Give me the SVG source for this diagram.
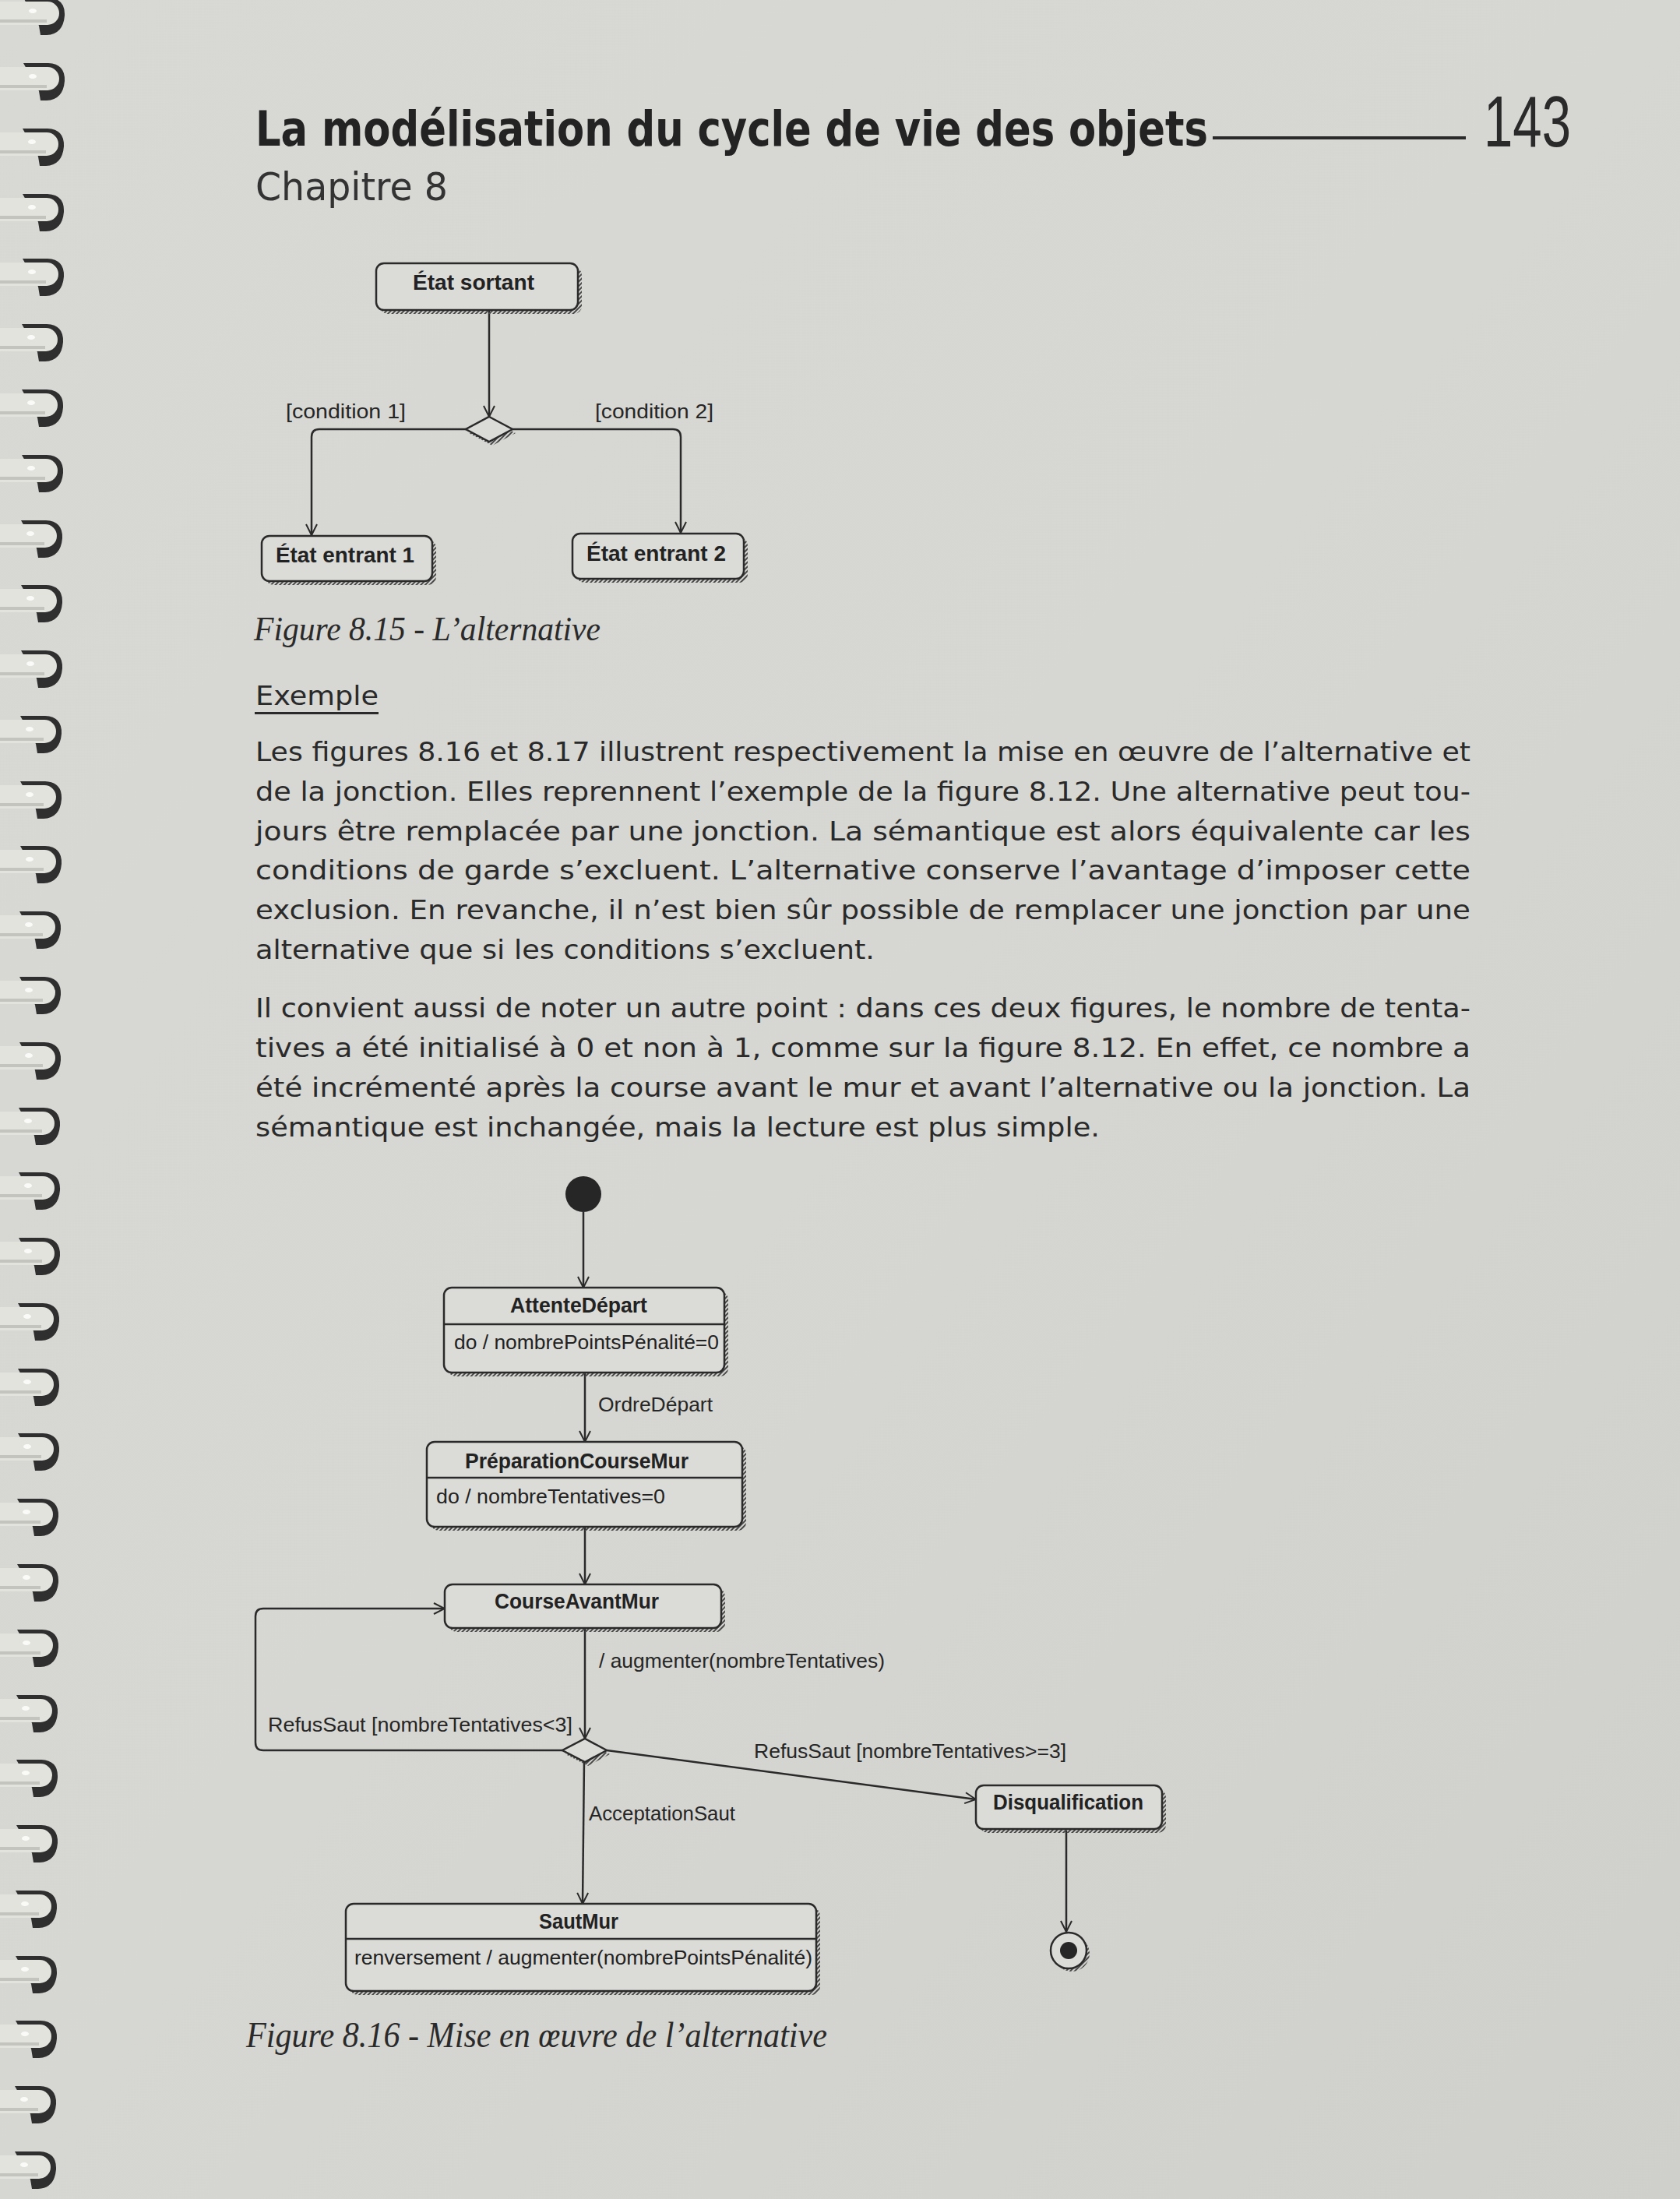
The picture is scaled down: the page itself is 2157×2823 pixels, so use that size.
<svg xmlns="http://www.w3.org/2000/svg" xmlns:xlink="http://www.w3.org/1999/xlink" width="2157" height="2823" viewBox="0 0 2157 2823">
  <defs>
    <linearGradient id="paper" x1="0" y1="0" x2="1" y2="1">
      <stop offset="0" stop-color="#d8d8d4"/>
      <stop offset="0.5" stop-color="#d6d6d2"/>
      <stop offset="1" stop-color="#cfcfcb"/>
    </linearGradient>
    <pattern id="hatch" width="4" height="4" patternUnits="userSpaceOnUse" patternTransform="rotate(45)">
      <rect width="2" height="4" fill="#4a4a4a"/>
    </pattern>
    <marker id="arr" viewBox="0 0 16 16" refX="15" refY="8" markerWidth="16" markerHeight="16" orient="auto" markerUnits="userSpaceOnUse">
      <path d="M1,1 L15,8 L1,15" fill="none" stroke="#2a2a2a" stroke-width="2"/>
    </marker>
    <!-- one loop of the wire binding, centred on y=0 -->
    <g id="ring">
      <path d="M30,-20 L62,-20 Q84,-19 83,3 Q81,27 60,28 L52,28 L50,16 Z" fill="#2f2f2f"/>
      <rect x="-40" y="-15" width="116" height="30" rx="15" fill="#e3e3de"/>
      <path d="M-40,10 L60,10" stroke="#c4c4be" stroke-width="4"/>
      <ellipse cx="42" cy="-3" rx="5" ry="3" fill="#fafaf8"/>
    </g>
  </defs>
  <style>
    .ink { fill: #262626; }
    .head { font-family: "DejaVu Sans", "Liberation Sans", sans-serif; font-weight: bold; fill: #232323; }
    .body { font-family: "DejaVu Sans", "Liberation Sans", sans-serif; font-size: 34px; fill: #2a2a2a; }
    .cap { font-family: "Liberation Serif", serif; font-style: italic; fill: #2a2a2a; }
    .node rect.box { fill: #dbdbd7; stroke: #2a2a2a; stroke-width: 2.5; }
    .node rect.sh { fill: url(#hatch); }
    .node line.div { stroke: #2a2a2a; stroke-width: 2.5; }
    .nt { font-family: "Liberation Sans", Arial, sans-serif; font-weight: bold; font-size: 27px; fill: #222; }
    .nb { font-family: "Liberation Sans", Arial, sans-serif; font-size: 26px; fill: #222; }
    .lbl { font-family: "Liberation Sans", Arial, sans-serif; font-size: 26px; fill: #262626; }
    .edges path, .edges line { fill: none; stroke: #2a2a2a; stroke-width: 2.5; }
  </style>

  <!-- page -->
  <rect x="0" y="0" width="2157" height="2823" fill="url(#paper)"/>

  <!-- spiral binding -->
  <g id="binding">
    <use xlink:href="#ring" transform="translate(0,17)"/>
    <use xlink:href="#ring" transform="translate(0,101)"/>
    <use xlink:href="#ring" transform="translate(-1,185)"/>
    <use xlink:href="#ring" transform="translate(-1,269)"/>
    <use xlink:href="#ring" transform="translate(-1,352)"/>
    <use xlink:href="#ring" transform="translate(-2,436)"/>
    <use xlink:href="#ring" transform="translate(-2,520)"/>
    <use xlink:href="#ring" transform="translate(-2,604)"/>
    <use xlink:href="#ring" transform="translate(-3,688)"/>
    <use xlink:href="#ring" transform="translate(-3,771)"/>
    <use xlink:href="#ring" transform="translate(-3,855)"/>
    <use xlink:href="#ring" transform="translate(-4,939)"/>
    <use xlink:href="#ring" transform="translate(-4,1023)"/>
    <use xlink:href="#ring" transform="translate(-4,1106)"/>
    <use xlink:href="#ring" transform="translate(-5,1190)"/>
    <use xlink:href="#ring" transform="translate(-5,1274)"/>
    <use xlink:href="#ring" transform="translate(-5,1358)"/>
    <use xlink:href="#ring" transform="translate(-6,1442)"/>
    <use xlink:href="#ring" transform="translate(-6,1525)"/>
    <use xlink:href="#ring" transform="translate(-6,1609)"/>
    <use xlink:href="#ring" transform="translate(-7,1693)"/>
    <use xlink:href="#ring" transform="translate(-7,1777)"/>
    <use xlink:href="#ring" transform="translate(-7,1860)"/>
    <use xlink:href="#ring" transform="translate(-8,1944)"/>
    <use xlink:href="#ring" transform="translate(-8,2028)"/>
    <use xlink:href="#ring" transform="translate(-8,2112)"/>
    <use xlink:href="#ring" transform="translate(-9,2196)"/>
    <use xlink:href="#ring" transform="translate(-9,2279)"/>
    <use xlink:href="#ring" transform="translate(-9,2363)"/>
    <use xlink:href="#ring" transform="translate(-10,2447)"/>
    <use xlink:href="#ring" transform="translate(-10,2531)"/>
    <use xlink:href="#ring" transform="translate(-10,2614)"/>
    <use xlink:href="#ring" transform="translate(-11,2698)"/>
    <use xlink:href="#ring" transform="translate(-11,2782)"/>
  </g>

  <!-- running head -->
  <g id="header">
    <text class="head" x="328" y="187" font-size="62" textLength="1223" lengthAdjust="spacingAndGlyphs">La modélisation du cycle de vie des objets</text>
    <rect x="1557" y="175" width="325" height="4" fill="#2a2a2a"/>
    <text x="1905" y="188" font-family="Liberation Sans, Arial, sans-serif" font-size="92" fill="#2a2a2a" textLength="112" lengthAdjust="spacingAndGlyphs">143</text>
    <text x="328" y="257" font-family="DejaVu Sans, Liberation Sans, sans-serif" font-size="50" fill="#333" textLength="247" lengthAdjust="spacingAndGlyphs">Chapitre 8</text>
  </g>

  <!-- Figure 8.15 -->
  <g id="fig815">
    <g class="edges">
      <line x1="628" y1="398" x2="628" y2="535" marker-end="url(#arr)"/>
      <path d="M598,551 L410,551 Q400,551 400,561 L400,687" marker-end="url(#arr)"/>
      <path d="M658,551 L864,551 Q874,551 874,561 L874,684" marker-end="url(#arr)"/>
    </g>
    <text class="lbl" x="367" y="537" font-size="28" textLength="154" lengthAdjust="spacingAndGlyphs">[condition 1]</text>
    <text class="lbl" x="764" y="537" font-size="28" textLength="152" lengthAdjust="spacingAndGlyphs">[condition 2]</text>

    <g id="etat-sortant" class="node">
      <rect class="sh" x="488" y="343" width="259" height="60" rx="10"/>
      <rect class="box" x="483" y="338" width="259" height="60" rx="10"/>
      <text class="nt" x="530" y="372" font-size="28" textLength="156" lengthAdjust="spacingAndGlyphs">État sortant</text>
    </g>
    <g id="alt1" class="node">
      <path d="M632,540 L662,556 L632,572 L602,556 Z" fill="url(#hatch)"/>
      <path d="M628,535 L658,551 L628,567 L598,551 Z" fill="#dbdbd7" stroke="#2a2a2a" stroke-width="2.5"/>
    </g>
    <g id="etat-entrant-1" class="node">
      <rect class="sh" x="341" y="693" width="219" height="58" rx="10"/>
      <rect class="box" x="336" y="688" width="219" height="58" rx="10"/>
      <text class="nt" x="354" y="722" font-size="28" textLength="178" lengthAdjust="spacingAndGlyphs">État entrant 1</text>
    </g>
    <g id="etat-entrant-2" class="node">
      <rect class="sh" x="740" y="690" width="220" height="58" rx="10"/>
      <rect class="box" x="735" y="685" width="220" height="58" rx="10"/>
      <text class="nt" x="753" y="720" font-size="28" textLength="179" lengthAdjust="spacingAndGlyphs">État entrant 2</text>
    </g>
    <text class="cap" x="326" y="822" font-size="44" textLength="445" lengthAdjust="spacingAndGlyphs">Figure 8.15 - L’alternative</text>
  </g>

  <!-- body text -->
  <g id="text">
    <text class="body" x="328" y="905" textLength="158" lengthAdjust="spacingAndGlyphs">Exemple</text>
    <rect x="327" y="914" width="159" height="3" fill="#2a2a2a"/>
    <text class="body" x="328" y="977" textLength="1560" lengthAdjust="spacingAndGlyphs">Les figures 8.16 et 8.17 illustrent respectivement la mise en œuvre de l’alternative et</text>
    <text class="body" x="328" y="1028" textLength="1560" lengthAdjust="spacingAndGlyphs">de la jonction. Elles reprennent l’exemple de la figure 8.12. Une alternative peut tou-</text>
    <text class="body" x="328" y="1079" textLength="1560" lengthAdjust="spacingAndGlyphs">jours être remplacée par une jonction. La sémantique est alors équivalente car les</text>
    <text class="body" x="328" y="1129" textLength="1560" lengthAdjust="spacingAndGlyphs">conditions de garde s’excluent. L’alternative conserve l’avantage d’imposer cette</text>
    <text class="body" x="328" y="1180" textLength="1560" lengthAdjust="spacingAndGlyphs">exclusion. En revanche, il n’est bien sûr possible de remplacer une jonction par une</text>
    <text class="body" x="328" y="1231" textLength="795" lengthAdjust="spacingAndGlyphs">alternative que si les conditions s’excluent.</text>
    <text class="body" x="328" y="1306" textLength="1560" lengthAdjust="spacingAndGlyphs">Il convient aussi de noter un autre point : dans ces deux figures, le nombre de tenta-</text>
    <text class="body" x="328" y="1357" textLength="1560" lengthAdjust="spacingAndGlyphs">tives a été initialisé à 0 et non à 1, comme sur la figure 8.12. En effet, ce nombre a</text>
    <text class="body" x="328" y="1408" textLength="1560" lengthAdjust="spacingAndGlyphs">été incrémenté après la course avant le mur et avant l’alternative ou la jonction. La</text>
    <text class="body" x="328" y="1459" textLength="1084" lengthAdjust="spacingAndGlyphs">sémantique est inchangée, mais la lecture est plus simple.</text>
  </g>

  <!-- Figure 8.16 -->
  <g id="fig816">
    <g class="edges">
      <line x1="749" y1="1556" x2="749" y2="1653" marker-end="url(#arr)"/>
      <line x1="751" y1="1762" x2="751" y2="1851" marker-end="url(#arr)"/>
      <line x1="751" y1="1960" x2="751" y2="2034" marker-end="url(#arr)"/>
      <line x1="751" y1="2090" x2="751" y2="2232" marker-end="url(#arr)"/>
      <path d="M722,2247 L338,2247 Q328,2247 328,2237 L328,2075 Q328,2065 338,2065 L571,2065" marker-end="url(#arr)"/>
      <line x1="779" y1="2247" x2="1253" y2="2310" marker-end="url(#arr)"/>
      <line x1="750" y1="2262" x2="748" y2="2444" marker-end="url(#arr)"/>
      <line x1="1369" y1="2350" x2="1369" y2="2480" marker-end="url(#arr)"/>
    </g>
    <text class="lbl" x="768" y="1812" textLength="147" lengthAdjust="spacingAndGlyphs">OrdreDépart</text>
    <text class="lbl" x="769" y="2141" textLength="367" lengthAdjust="spacingAndGlyphs">/ augmenter(nombreTentatives)</text>
    <text class="lbl" x="344" y="2223" textLength="391" lengthAdjust="spacingAndGlyphs">RefusSaut [nombreTentatives&lt;3]</text>
    <text class="lbl" x="968" y="2257" textLength="401" lengthAdjust="spacingAndGlyphs">RefusSaut [nombreTentatives&gt;=3]</text>
    <text class="lbl" x="756" y="2337" textLength="188" lengthAdjust="spacingAndGlyphs">AcceptationSaut</text>

    <g id="initial" class="node">
      <circle cx="749" cy="1533" r="23" fill="#262626"/>
    </g>
    <g id="attente-depart" class="node">
      <rect class="sh" x="575" y="1658" width="360" height="109" rx="10"/>
      <rect class="box" x="570" y="1653" width="360" height="109" rx="10"/>
      <line class="div" x1="570" y1="1700" x2="930" y2="1700"/>
      <text class="nt" x="655" y="1685" textLength="176" lengthAdjust="spacingAndGlyphs">AttenteDépart</text>
      <text class="nb" x="583" y="1732" textLength="340" lengthAdjust="spacingAndGlyphs">do / nombrePointsPénalité=0</text>
    </g>
    <g id="preparation-course-mur" class="node">
      <rect class="sh" x="553" y="1856" width="405" height="109" rx="10"/>
      <rect class="box" x="548" y="1851" width="405" height="109" rx="10"/>
      <line class="div" x1="548" y1="1897" x2="953" y2="1897"/>
      <text class="nt" x="597" y="1885" textLength="287" lengthAdjust="spacingAndGlyphs">PréparationCourseMur</text>
      <text class="nb" x="560" y="1930" textLength="294" lengthAdjust="spacingAndGlyphs">do / nombreTentatives=0</text>
    </g>
    <g id="course-avant-mur" class="node">
      <rect class="sh" x="576" y="2039" width="355" height="56" rx="10"/>
      <rect class="box" x="571" y="2034" width="355" height="56" rx="10"/>
      <text class="nt" x="635" y="2065" textLength="211" lengthAdjust="spacingAndGlyphs">CourseAvantMur</text>
    </g>
    <g id="alt2" class="node">
      <path d="M755,2237 L783,2252 L755,2267 L726,2252 Z" fill="url(#hatch)"/>
      <path d="M751,2232 L779,2247 L751,2262 L722,2247 Z" fill="#dbdbd7" stroke="#2a2a2a" stroke-width="2.5"/>
    </g>
    <g id="disqualification" class="node">
      <rect class="sh" x="1258" y="2297" width="239" height="56" rx="10"/>
      <rect class="box" x="1253" y="2292" width="239" height="56" rx="10"/>
      <text class="nt" x="1275" y="2323" textLength="193" lengthAdjust="spacingAndGlyphs">Disqualification</text>
    </g>
    <g id="saut-mur" class="node">
      <rect class="sh" x="449" y="2449" width="604" height="112" rx="10"/>
      <rect class="box" x="444" y="2444" width="604" height="112" rx="10"/>
      <line class="div" x1="444" y1="2489" x2="1048" y2="2489"/>
      <text class="nt" x="692" y="2476" textLength="102" lengthAdjust="spacingAndGlyphs">SautMur</text>
      <text class="nb" x="455" y="2522" textLength="588" lengthAdjust="spacingAndGlyphs">renversement / augmenter(nombrePointsPénalité)</text>
    </g>
    <g id="final" class="node">
      <circle cx="1376" cy="2508" r="23" fill="url(#hatch)"/>
      <circle cx="1372" cy="2504" r="23" fill="#dbdbd7" stroke="#2a2a2a" stroke-width="2.5"/>
      <circle cx="1372" cy="2504" r="11" fill="#262626"/>
    </g>
    <text class="cap" x="316" y="2628" font-size="46" textLength="746" lengthAdjust="spacingAndGlyphs">Figure 8.16 - Mise en œuvre de l’alternative</text>
  </g>
</svg>
